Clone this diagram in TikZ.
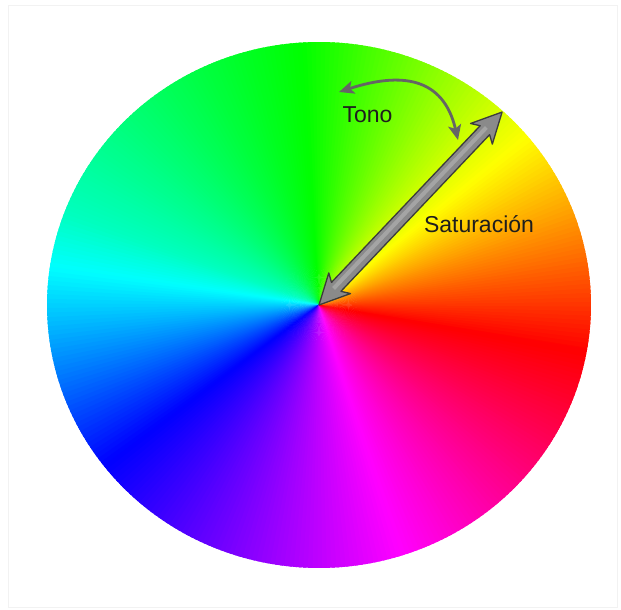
\documentclass[tikz,border=0pt]{standalone}
\usepackage{fontspec}
\setmainfont{Liberation Sans}
\usetikzlibrary{arrows.meta,calc}
\definecolor{arrowgray}{HTML}{8A8A8A}
\definecolor{arrowlight}{HTML}{A4A4A4}
\definecolor{arrowedge}{HTML}{3C3C3C}
\definecolor{tonogray}{HTML}{656565}
\definecolor{txt}{HTML}{1E1E1E}
\definecolor{framegray}{HTML}{F2F2F2}
\begin{document}
\begin{tikzpicture}[x=1pt,y=1pt,
  lbl/.style={font=\fontsize{23}{27}\selectfont, text=txt, inner sep=0pt},
  tonoarrow/.style={draw=tonogray, line width=2.8pt,
    {Stealth[length=15pt,width=13pt,inset=3.5pt]}-{Stealth[length=15pt,width=13pt,inset=3.5pt]}},
  satarrow/.style={fill=arrowgray, draw=arrowedge, line width=1.3pt, line join=round}]
\useasboundingbox (0,0) rectangle (621,610);
\fill[white] (0,0) rectangle (621,610);
\draw[framegray, line width=0.8pt] (8,3) rectangle (617,605);
\coordinate (c) at (319,305);
% colour wheel (conic hue gradient)
\begin{scope}[shift={(c)}]
\foreach \angA/\angB/\hueA in {-10/40/0, 40/94/60, 94/160/120, 160/172/165, 172/218/180, 218/288/240, 288/350/300}{
  \pgfmathsetmacro\hueB{\hueA==120 ? 165 : (\hueA==165 ? 180 : \hueA+60)}
  \pgfmathtruncatemacro\nn{\angB-\angA-1}
  \foreach \k in {0,...,\nn}{
    \pgfmathsetmacro\ang{\angA+\k}
    \pgfmathsetmacro\hue{\hueA+(\hueB-\hueA)*(\k+0.5)/(\angB-\angA)}
    \definecolor{wc}{Hsb}{\hue,1,1}
    \fill[wc] (0,0) -- (\ang-0.35:272 and 263) -- (\ang+1.35:272 and 263) -- cycle;
  }
}
\end{scope}
% Saturacion double arrow
\coordinate (e) at (502,498);
\begin{scope}[shift={(c)}, rotate=46.5]
\filldraw[satarrow] (0,0) -- (30,15) -- (25,6.5) -- (241,6.5) -- (236,15) -- (266,0)
  -- (236,-15) -- (241,-6.5) -- (25,-6.5) -- (30,-15) -- cycle;
\draw[arrowlight, line width=4pt] (22,0.8) -- (244,0.8);
\end{scope}
% Tono curved arrow
\coordinate (t1) at (339,518);
\coordinate (t2) at (458,470);
\draw[tonoarrow] (t1) .. controls (400.8,538.1) and (443.4,533.3) .. (t2);
% labels
\node[lbl, anchor=base] (tono) at (367.5,487) {Tono};
\node[lbl, anchor=base] (sat) at (479,377) {Saturación};
\end{tikzpicture}
\end{document}
